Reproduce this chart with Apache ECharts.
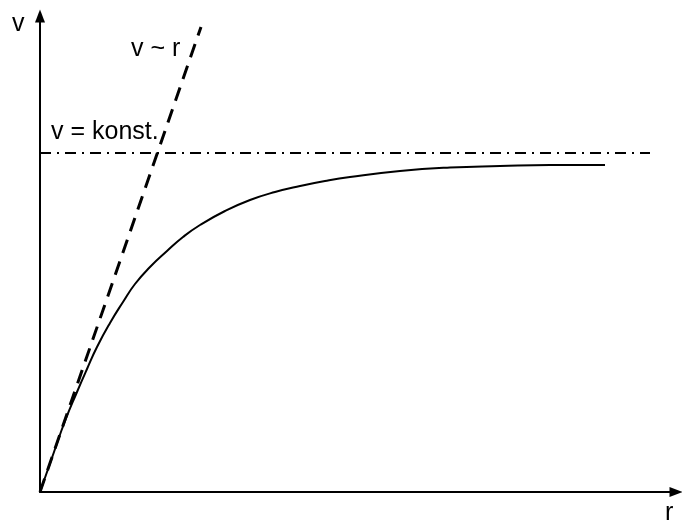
<!DOCTYPE html>
<html>
<head>
<meta charset="utf-8">
<script src="https://cdn.jsdelivr.net/npm/echarts@6/dist/echarts.min.js"></script>
<style>
  html, body { margin: 0; padding: 0; background: #fff; }
  #chart { width: 682px; height: 520px; }
</style>
</head>
<body>
<div id="chart"></div>
<script>
// Rotation curve: orbital speed v against radius r (arbitrary units)
const curveR = [0, 14, 25, 37, 47, 57, 70, 83, 95, 110, 127, 143, 160, 185, 210, 235, 260, 285, 310, 360, 410, 460, 510, 565];
const curveV = [0, 40, 71, 100, 123, 145, 169, 190, 208, 225, 241, 255, 267, 281, 292, 300, 306, 311, 315, 321, 324.5, 326, 327, 327];

// Rigid-body rotation, v ~ r
const linearR = [0, 161];
const linearV = [0, 465];

// Flat rotation, v = konst.
const flatR = [0, 610];
const flatV = [339, 339];

const labels = {
  yName: 'v',
  xName: 'r',
  linear: 'v ~ r',
  flat: 'v = konst.'
};

const pairs = (xs, ys) => xs.map((x, i) => [x, ys[i]]);

const FONT = '25px "Liberation Sans", Arial, sans-serif';

const chart = echarts.init(document.getElementById('chart'), null, { renderer: 'canvas' });

const axisCommon = {
  type: 'value',
  min: 0,
  axisTick: { show: false },
  axisLabel: { show: false },
  splitLine: { show: false },
  axisLine: {
    show: true,
    symbol: ['none', 'triangle'],
    symbolSize: [10, 13],
    lineStyle: { color: '#000', width: 2 }
  }
};

chart.setOption({
  animation: false,
  backgroundColor: '#fff',
  grid: { left: 40, right: 6, top: 16, bottom: 28 },
  xAxis: Object.assign({}, axisCommon, { max: 636 }),
  yAxis: Object.assign({}, axisCommon, { max: 476 }),
  series: [
    {
      type: 'line',
      data: pairs(curveR, curveV),
      smooth: 0.5,
      showSymbol: false,
      lineStyle: { color: '#000', width: 2 }
    },
    {
      type: 'line',
      data: pairs(linearR, linearV),
      showSymbol: false,
      lineStyle: { color: '#000', width: 3, type: [14, 9] }
    },
    {
      type: 'line',
      data: pairs(flatR, flatV),
      showSymbol: false,
      lineStyle: { color: '#000', width: 2, type: [11, 6, 2, 6] }
    }
  ],
  graphic: [
    { type: 'text', style: { text: labels.yName, x: 12, y: 24.5, font: FONT, fill: '#000', textAlign: 'left', textVerticalAlign: 'middle' } },
    { type: 'text', style: { text: labels.xName, x: 665, y: 513.5, font: FONT, fill: '#000', textAlign: 'left', textVerticalAlign: 'middle' } },
    { type: 'text', style: { text: labels.linear, x: 131, y: 49.5, font: FONT, fill: '#000', textAlign: 'left', textVerticalAlign: 'middle' } },
    { type: 'text', style: { text: labels.flat, x: 51, y: 132.5, font: FONT, fill: '#000', textAlign: 'left', textVerticalAlign: 'middle' } }
  ]
});
</script>
</body>
</html>
